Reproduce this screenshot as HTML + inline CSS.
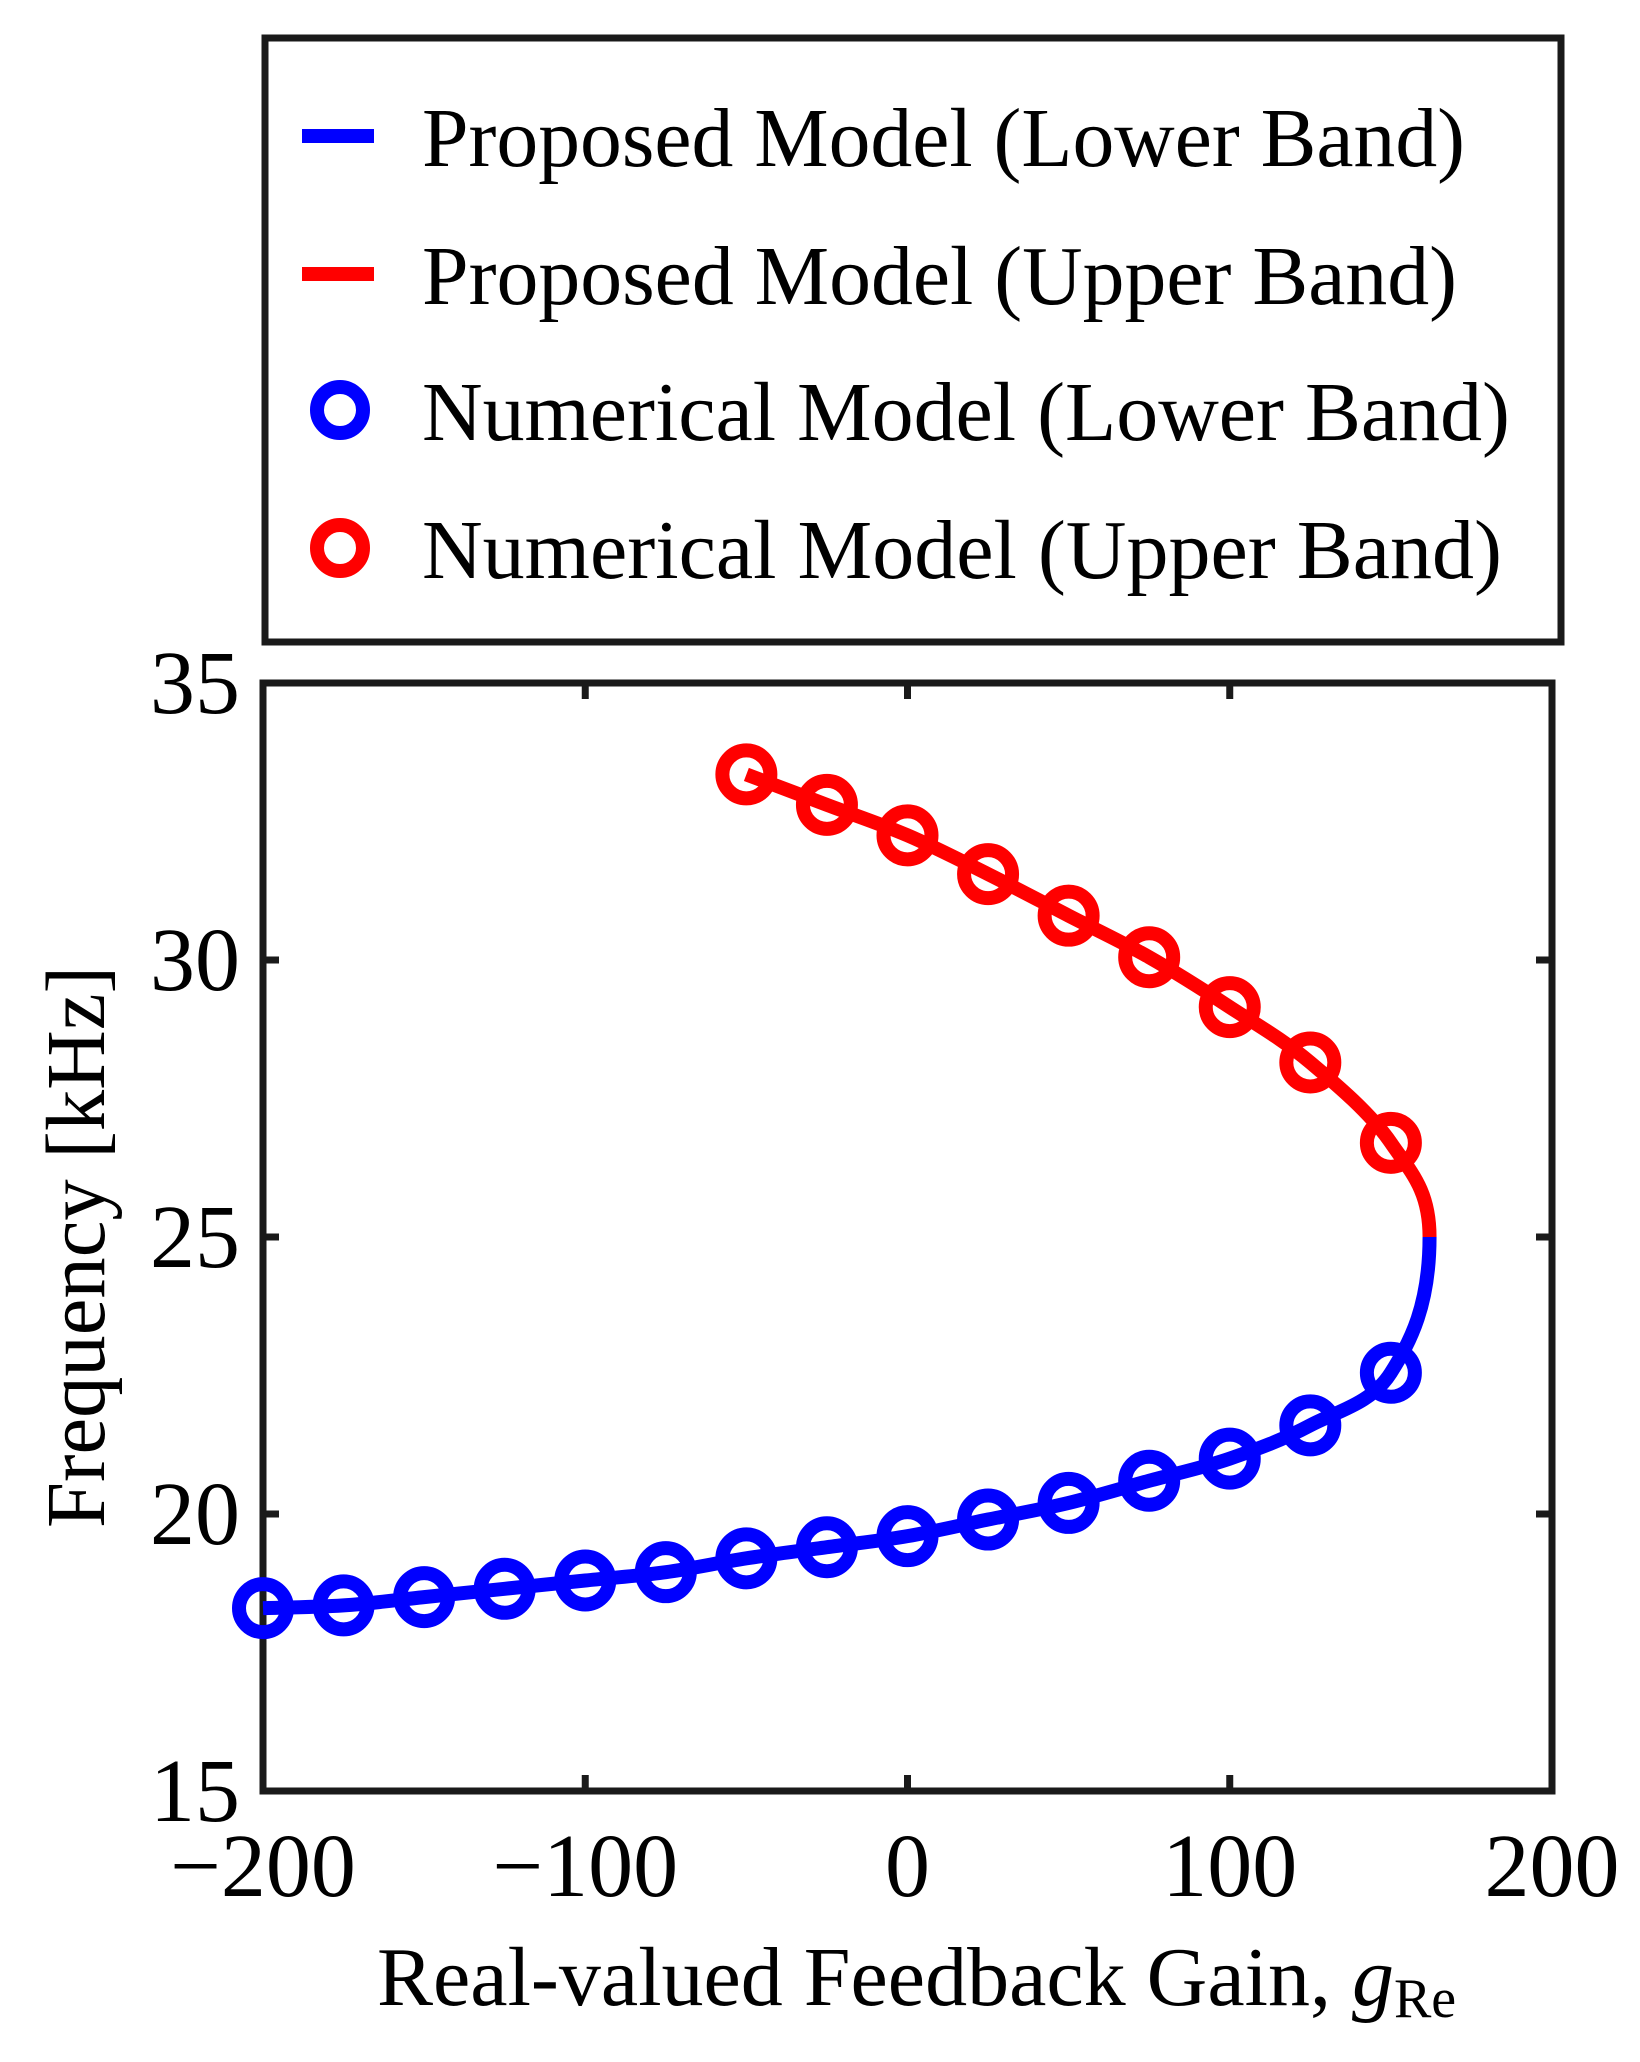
<!DOCTYPE html>
<html><head><meta charset="utf-8"><style>
html,body{margin:0;padding:0;background:#fff;}
svg{display:block;font-family:"Liberation Serif",serif;}
</style></head><body>
<svg id="chart" width="1640" height="2062" viewBox="0 0 1640 2062" xmlns="http://www.w3.org/2000/svg">
<rect x="0" y="0" width="1640" height="2062" fill="#fff"/>
<g id="legend">
<rect x="265" y="38" width="1296" height="604" fill="#fff" stroke="#1a1a1a" stroke-width="7"/>
<line x1="302" y1="136" x2="374" y2="136" stroke="#0000ff" stroke-width="14"/>
<text x="422" y="166" font-size="84" textLength="1043" lengthAdjust="spacingAndGlyphs">Proposed Model (Lower Band)</text>
<line x1="302" y1="274" x2="374" y2="274" stroke="#ff0000" stroke-width="14"/>
<text x="422" y="304" font-size="84" textLength="1035" lengthAdjust="spacingAndGlyphs">Proposed Model (Upper Band)</text>
<circle cx="340" cy="410" r="23" fill="none" stroke="#0000ff" stroke-width="14"/>
<text x="422" y="440" font-size="84" textLength="1088" lengthAdjust="spacingAndGlyphs">Numerical Model (Lower Band)</text>
<circle cx="340" cy="548" r="23" fill="none" stroke="#ff0000" stroke-width="14"/>
<text x="422" y="578" font-size="84" textLength="1080" lengthAdjust="spacingAndGlyphs">Numerical Model (Upper Band)</text>
</g>
<g id="axes"></g>
<g id="series"></g>
<text x="377" y="2005" font-size="84">Real-valued Feedback Gain, <tspan font-style="italic">g</tspan><tspan font-size="56" dy="12">Re</tspan></text>
<text transform="translate(104,1247) rotate(-90)" text-anchor="middle" font-size="84" textLength="562" lengthAdjust="spacingAndGlyphs">Frequency [kHz]</text>
</svg>
<script>
const xTicks = [-200, -100, 0, 100, 200];
const yTicks = [15, 20, 25, 30, 35];
const lowerG = [-200, -175, -150, -125, -100, -75, -50, -25, 0, 25, 50, 75, 100, 125, 150];
const lowerF = [18.3, 18.35, 18.5, 18.65, 18.8, 18.95, 19.2, 19.4, 19.6, 19.9, 20.2, 20.6, 21.0, 21.6, 22.55];
const upperG = [-50, -25, 0, 25, 50, 75, 100, 125, 150];
const upperF = [33.35, 32.8, 32.25, 31.55, 30.8, 30.05, 29.15, 28.15, 26.7];
const branchG = [162];
const branchF = [25];

const L=263,R=1552,T=683,B=1791;
const xs=g=>L+(g+200)/400*(R-L);
const ys=f=>B-(f-15)/20*(B-T);
const NS='http://www.w3.org/2000/svg';
function mk(tag,attrs,parent){const e=document.createElementNS(NS,tag);for(const k in attrs)e.setAttribute(k,attrs[k]);parent.appendChild(e);return e;}
const axes=document.getElementById('axes');
const series=document.getElementById('series');
let frame=mk('rect',{x:L,y:T,width:R-L,height:B-T,fill:'none',stroke:'#1a1a1a','stroke-width':7},axes);


xTicks.forEach(v=>{
  const x=xs(v);
  let t1=mk('line',{x1:x,y1:B,x2:x,y2:B-16,stroke:'#1a1a1a','stroke-width':7},axes);
  
  
  let t2=mk('line',{x1:x,y1:T,x2:x,y2:T+16,stroke:'#1a1a1a','stroke-width':7},axes);
  
  
  let lb=mk('text',{x:x,y:1896,'text-anchor':'middle','font-size':90},axes);
  lb.textContent=v<0?'\u2212'+(-v):String(v);
  
  
});
yTicks.forEach(v=>{
  const y=ys(v);
  let t1=mk('line',{x1:L,y1:y,x2:L+16,y2:y,stroke:'#1a1a1a','stroke-width':7},axes);
  
  
  let t2=mk('line',{x1:R,y1:y,x2:R-16,y2:y,stroke:'#1a1a1a','stroke-width':7},axes);
  
  
  let lb=mk('text',{x:240,y:y+30,'text-anchor':'end','font-size':90},axes);
  lb.textContent=String(v);
  
  
});
function smooth(pts){
  let d='M'+pts[0][0]+','+pts[0][1];
  const n=pts.length;
  for(let i=0;i<n-1;i++){
    const p0=pts[Math.max(i-1,0)],p1=pts[i],p2=pts[i+1],p3=pts[Math.min(i+2,n-1)];
    const c1=[p1[0]+(p2[0]-p0[0])/6,p1[1]+(p2[1]-p0[1])/6];
    let c2=[p2[0]-(p3[0]-p1[0])/6,p2[1]-(p3[1]-p1[1])/6];
    if(i===n-2){c2=[p2[0],p2[1]+(p1[1]-p2[1])*0.5];}
    d+=' C'+c1[0]+','+c1[1]+' '+c2[0]+','+c2[1]+' '+p2[0]+','+p2[1];
  }
  return d;
}
const lowerPts=lowerG.map((g,i)=>[xs(g),ys(lowerF[i])]).concat(branchG.map((g,i)=>[xs(g),ys(branchF[i])]));
const upperPts=upperG.map((g,i)=>[xs(g),ys(upperF[i])]).concat(branchG.map((g,i)=>[xs(g),ys(branchF[i])]));
let lp=mk('path',{d:smooth(lowerPts),fill:'none',stroke:'#0000ff','stroke-width':14},series);


let up=mk('path',{d:smooth(upperPts),fill:'none',stroke:'#ff0000','stroke-width':14},series);


lowerG.forEach((g,i)=>{
  let c=mk('circle',{cx:xs(g),cy:ys(lowerF[i]),r:24,fill:'none',stroke:'#0000ff','stroke-width':14},series);
  
  
});
upperG.forEach((g,i)=>{
  let c=mk('circle',{cx:xs(g),cy:ys(upperF[i]),r:24,fill:'none',stroke:'#ff0000','stroke-width':14},series);
  
  
});
</script>
</body></html>
